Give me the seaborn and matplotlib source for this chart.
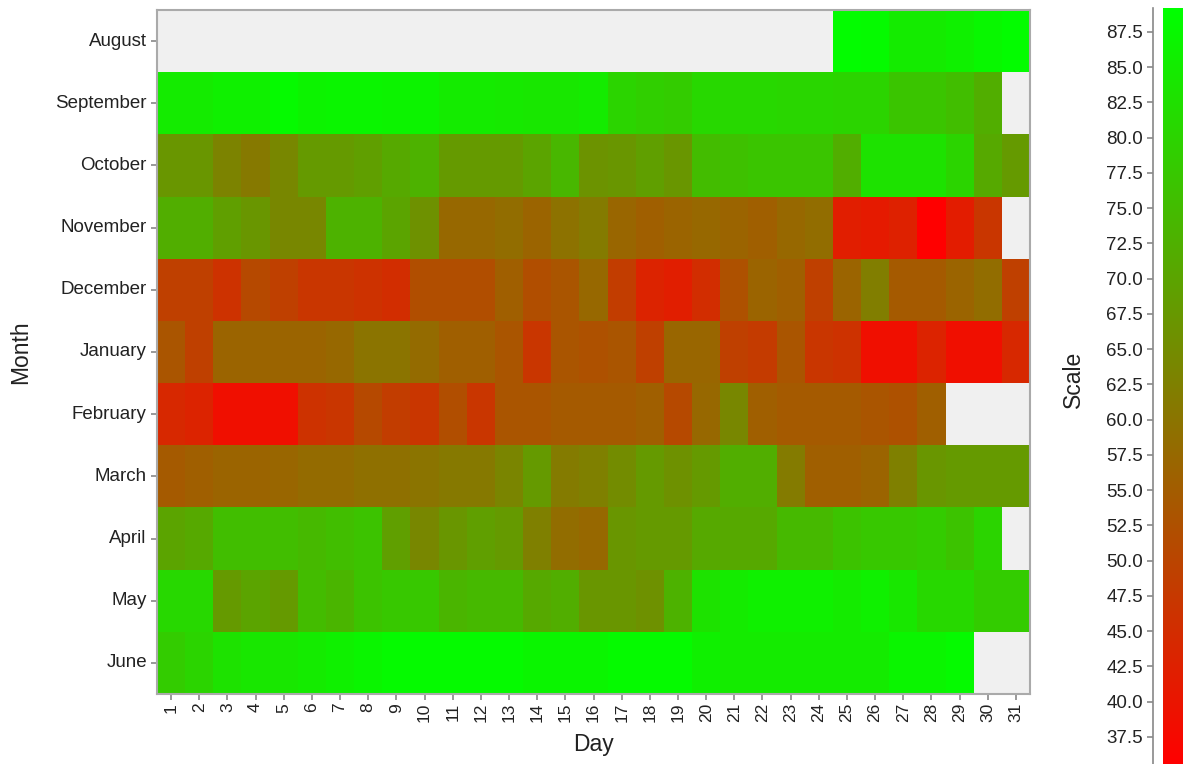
import numpy as np
import pandas as pd
import seaborn as sns
import matplotlib.pyplot as plt
from matplotlib.colors import LinearSegmentedColormap

plt.rcParams['font.family'] = ['Liberation Sans', 'DejaVu Sans']

nan = np.nan
months = ["August", "September", "October", "November", "December", "January",
          "February", "March", "April", "May", "June"]
days = [str(d) for d in range(1, 32)]

august = [nan] * 24 + [88.5, 88, 85, 85, 86, 87.5, 88.5]
september = [85, 85, 86, 86, 88, 86.5, 87, 87, 86.5, 86.5, 85, 85, 84.5, 84, 84, 85,
             80, 79, 78.5, 81, 81, 81, 80.5, 80.5, 80, 80, 77, 77, 75.5, 72, nan]
october = [67, 67, 63, 61, 64, 68, 68, 69, 71, 73, 68, 68, 68, 70, 74, 66.5,
           67, 69, 67, 75, 76, 77, 77, 77, 72, 83, 83, 83, 80, 71, 68]
november = [72, 72, 69, 67, 64, 64, 73, 73, 70, 66, 57.5, 57.5, 58.5, 56.5, 59.5, 61.5,
            57, 55.5, 56.5, 57.5, 56.5, 55.5, 57.5, 58.5, 42, 41, 42.5, 35.6, 41.5, 47, nan]
december = [49, 49, 46, 51, 49, 47, 47, 46, 45, 52, 52, 52, 55.5, 52, 53.5, 57.5,
            48.5, 43, 42, 45, 52.5, 56.5, 55.5, 49, 56.5, 62, 54.5, 54.5, 56.5, 58.5, 49]
january = [53.5, 49, 56.5, 56.5, 56.5, 56.5, 57.5, 60, 60, 58, 55.5, 55.5, 53.5, 47, 53.5, 52.5,
           53.5, 49, 57, 57, 49, 48, 53.5, 47, 46, 38.7, 38.7, 43, 38.7, 38.7, 44]
february = [44, 43, 38.7, 38.7, 38.7, 46, 47, 51, 48.5, 47, 52, 47, 53.5, 53.5, 54.5, 54.5,
            54.5, 55.5, 51, 57.5, 64, 55.5, 54.5, 54.5, 54.5, 53.5, 52.5, 55.5, nan, nan, nan]
march = [54.5, 55.5, 56.5, 56.5, 57, 58, 58, 59, 59, 60, 61, 61, 63.5, 68, 61.5, 62.5,
         65, 68, 66, 68, 72, 72, 61.5, 55.5, 55.5, 56.5, 62.5, 67, 68, 68, 68]
april = [70, 71, 75.5, 75.5, 75.5, 74.5, 75.5, 76.5, 69, 64, 67, 69, 68, 62.5, 58.5, 57.5,
         67, 68, 68, 71, 71, 71, 74.5, 74.5, 76.5, 77.5, 77.5, 78.5, 76.5, 80, nan]
may = [81, 81, 68, 70, 68, 75, 73.5, 76.5, 77.5, 77.5, 73.5, 74.5, 74.5, 71, 72, 67,
       67, 66, 73, 83, 85, 86, 86, 86, 85, 86, 84, 81, 81, 78.5, 78.5]
june = [78.5, 80, 83, 84, 84, 85, 86, 87, 88, 88, 88, 88, 88, 87, 87, 87,
        88, 88, 88, 86, 85, 85, 85, 85, 85, 85, 87, 87, 88, nan, nan]

rows = [august, september, october, november, december, january,
        february, march, april, may, june]
df = pd.DataFrame(rows, index=months, columns=days)

cmap = LinearSegmentedColormap.from_list("red_green", ["#ff0000", "#00ff00"])
vmin, vmax = 35.5, 89.2
cbar_ticks = np.arange(37.5, 88.0, 2.5)

W, H = 1183, 764
PX = 72 / 100  # points per pixel at 100 dpi
fig = plt.figure(figsize=(W / 100, H / 100), dpi=100)
ax = fig.add_axes([157 / W, 70 / H, 873 / W, 684 / H])
cax = fig.add_axes([1163 / W, -1 / H, 40 / W, 757 / H])

sns.heatmap(df, ax=ax, cbar_ax=cax, cmap=cmap, vmin=vmin, vmax=vmax,
            cbar_kws={"ticks": cbar_ticks})
ax.set_facecolor("#f0f0f0")

for spine in ax.spines.values():
    spine.set_visible(True)
    spine.set_color("#aaaaaa")
    spine.set_linewidth(1.5)

text_color = "#222222"
ax.tick_params(axis="both", length=6 * PX, width=1.2, color="#888888",
               labelcolor=text_color)
ax.tick_params(axis="y", labelsize=13.5, pad=3)
ax.tick_params(axis="x", labelsize=12.5, pad=2)
ax.set_xticklabels(days, rotation=90)
ax.set_yticklabels(months, rotation=0)
ax.set_xlabel("Day", fontsize=16.5, color=text_color)
ax.set_ylabel("Month", fontsize=16.5, color=text_color)
ax.xaxis.set_label_coords(0.5, -0.057)
ax.yaxis.set_label_coords(-0.143, 0.5)

cbar = ax.collections[0].colorbar
cax.yaxis.set_ticks_position("left")
cax.yaxis.set_label_position("left")
cax.spines["left"].set_visible(True)
cax.spines["left"].set_position(("outward", 10 * PX))
cax.spines["left"].set_color("#888888")
cax.spines["left"].set_linewidth(1.2)
cax.tick_params(axis="y", length=6 * PX, width=1.2, color="#888888",
                labelsize=13.5, labelcolor=text_color, pad=4 * PX)
cax.set_yticklabels([f"{t:.1f}" for t in cbar_ticks])
cbar.set_label("Scale", fontsize=16.5, color=text_color)
cax.yaxis.set_label_coords(-1.95, 0.51)

fig.savefig("out.png", dpi=100)
